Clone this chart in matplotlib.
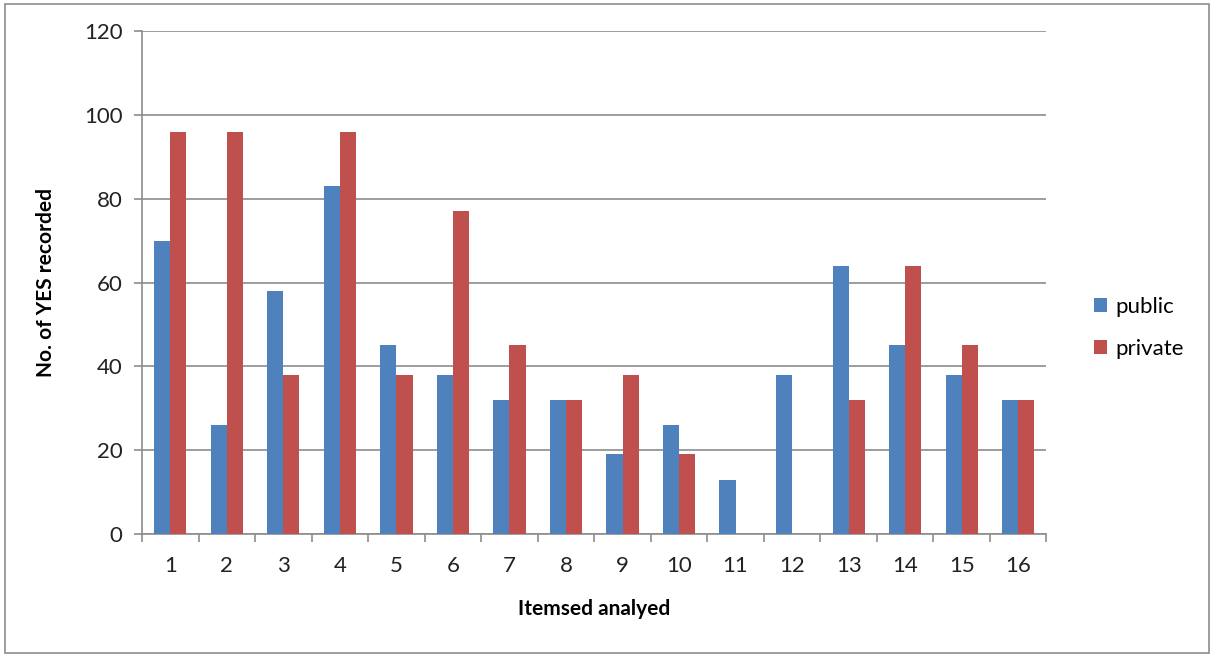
import matplotlib.pyplot as plt
import numpy as np
from matplotlib.patches import Rectangle

plt.rcParams['font.family'] = ['Lato', 'DejaVu Sans']

# Data
items = list(range(1, 17))
public = [70, 26, 58, 83, 45, 38, 32, 32, 19, 26, 13, 38, 64, 45, 38, 32]
private = [96, 96, 38, 96, 38, 77, 45, 32, 38, 19, 0, 0, 32, 64, 45, 32]

fig = plt.figure(figsize=(12.14, 6.57), dpi=100)
ax = fig.add_axes([0.117, 0.187, 0.745, 0.766])

# figure border
fig.patches.append(Rectangle((0.004, 0.006), 0.992, 0.988, transform=fig.transFigure,
                             fill=False, edgecolor='#8c8c8c', linewidth=1.2))

x = np.array(items)
w = 0.285
ax.bar(x - w / 2, public, width=w, color='#4F81BD', label='public', zorder=3)
ax.bar(x + w / 2, private, width=w, color='#C0504D', label='private', zorder=3)

ax.set_xlim(0.5, 16.5)
ax.set_ylim(0, 120)
ax.set_yticks(range(0, 121, 20))
ax.yaxis.grid(True, color='#8c8c8c', linewidth=1.2, zorder=0)

ax.set_xticks(x)
ax.set_xticks(np.arange(0.5, 17, 1), minor=True)
ax.tick_params(axis='x', which='major', length=0, labelsize=16, pad=16, colors='#222222')
ax.tick_params(axis='x', which='minor', length=6, width=1.2, color='#8c8c8c')
ax.tick_params(axis='y', length=6, width=1.2, color='#8c8c8c', labelsize=16, pad=8,
               labelcolor='#222222')

for s in ['top', 'right']:
    ax.spines[s].set_visible(False)
for s in ['left', 'bottom']:
    ax.spines[s].set_color('#8c8c8c')
    ax.spines[s].set_linewidth(1.2)

ax.set_xlabel('Itemsed analyed', fontsize=15, fontweight='bold', labelpad=16)
ax.set_ylabel('No. of YES recorded', fontsize=15, fontweight='bold', labelpad=20)

ax.legend(loc='center left', bbox_to_anchor=(1.03, 0.41), frameon=False, fontsize=16,
          handlelength=0.6, handleheight=0.6, handletextpad=0.4, labelspacing=1.0)

fig.savefig('out.png', dpi=100)
